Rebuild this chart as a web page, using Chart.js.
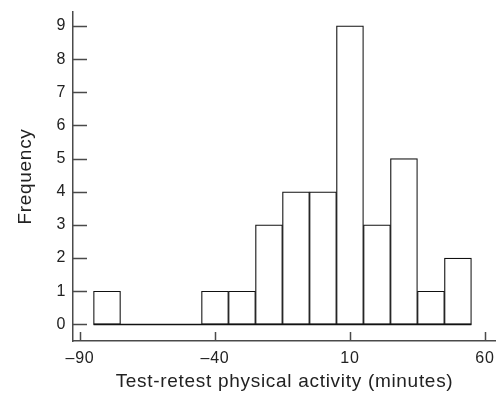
<!DOCTYPE html>
<html>
<head>
<meta charset="utf-8">
<script src="https://cdn.jsdelivr.net/npm/chart.js@4"></script>
<style>
  html, body { margin: 0; padding: 0; background: #fff; }
</style>
</head>
<body>
<canvas id="histChart" width="496" height="393"></canvas>
<script>
// bin centres (minutes) and counts
const binCentres = [-80, -70, -60, -50, -40, -30, -20, -10, 0, 10, 20, 30, 40, 50];
const counts = [1, 0, 0, 0, 1, 1, 3, 4, 4, 9, 3, 5, 1, 2];
const binWidth = 10;
const xTickValues = [-90, -40, 10, 60];
const yTickValues = [0, 1, 2, 3, 4, 5, 6, 7, 8, 9];

const axisColor = '#4a4a4a';
const fontFamily = '"Liberation Sans", Arial, sans-serif';

// original lettering is a bit wider than Liberation Sans
const wideText = {
    id: 'wideText',
    beforeDraw(chart) {
        chart.ctx.letterSpacing = '0.7px';
    }
};

// short tick marks pointing into the plot, like the original
const insideTicks = {
    id: 'insideTicks',
    afterDraw(chart) {
        const { ctx, chartArea, scales } = chart;
        ctx.save();
        ctx.strokeStyle = axisColor;
        ctx.lineWidth = 1.5;
        ctx.beginPath();
        scales.y.ticks.forEach(t => {
            const py = Math.round(scales.y.getPixelForValue(t.value)) + 0.5;
            ctx.moveTo(chartArea.left, py);
            ctx.lineTo(chartArea.left + 14, py);
        });
        scales.x.ticks.forEach(t => {
            const px = Math.round(scales.x.getPixelForValue(t.value)) + 0.5;
            ctx.moveTo(px, chartArea.bottom);
            ctx.lineTo(px, chartArea.bottom - 9);
        });
        ctx.stroke();
        ctx.restore();
    }
};

const ctx = document.getElementById('histChart').getContext('2d');
new Chart(ctx, {
    type: 'bar',
    data: {
        datasets: [{
            type: 'line',
            data: [
                { x: binCentres[0] - binWidth / 2, y: 0 },
                { x: binCentres[binCentres.length - 1] + binWidth / 2, y: 0 }
            ],
            borderColor: '#111',
            borderWidth: 1.5,
            pointRadius: 0,
            fill: false,
            order: 0
        }, {
            data: binCentres.map((c, i) => ({ x: c, y: counts[i] })),
            backgroundColor: '#fff',
            borderColor: '#111',
            borderWidth: 1.2,
            borderSkipped: false,
            barPercentage: 1,
            categoryPercentage: 1,
            order: 1
        }]
    },
    options: {
        responsive: false,
        animation: false,
        layout: { padding: { top: 12, left: 0, right: 0, bottom: 0 } },
        plugins: {
            legend: { display: false },
            tooltip: { enabled: false }
        },
        scales: {
            x: {
                type: 'linear',
                offset: false,
                min: -92.6,
                max: 64.1,
                grid: { display: false, drawTicks: false, offset: false },
                border: { display: true, color: axisColor, width: 1.5 },
                afterBuildTicks: scale => {
                    scale.ticks = xTickValues.map(v => ({ value: v }));
                },
                afterFit: scale => {
                    scale.height = 52;
                    scale.paddingLeft = 0;
                    scale.paddingRight = 0;
                },
                ticks: {
                    padding: 8,
                    color: '#222',
                    font: { family: fontFamily, size: 16 },
                    callback: v => v < 0 ? '\u2013' + Math.abs(v) : String(v)
                },
                title: {
                    display: true,
                    text: 'Test-retest physical activity (minutes)',
                    color: '#222',
                    font: { family: fontFamily, size: 19 },
                    padding: { top: 0, bottom: 0 }
                }
            },
            y: {
                min: -0.5,
                max: 9.42,
                grid: { display: false, drawTicks: false },
                border: { display: true, color: axisColor, width: 1.5 },
                afterBuildTicks: scale => {
                    scale.ticks = yTickValues.map(v => ({ value: v }));
                },
                afterFit: scale => {
                    scale.width = 73;
                    scale.paddingTop = 0;
                    scale.paddingBottom = 0;
                },
                ticks: {
                    padding: 7,
                    color: '#222',
                    font: { family: fontFamily, size: 16 }
                },
                title: {
                    display: true,
                    text: 'Frequency',
                    color: '#222',
                    font: { family: fontFamily, size: 19 },
                    padding: { top: 14, bottom: 0 }
                }
            }
        }
    },
    plugins: [wideText, insideTicks]
});
</script>
</body>
</html>
